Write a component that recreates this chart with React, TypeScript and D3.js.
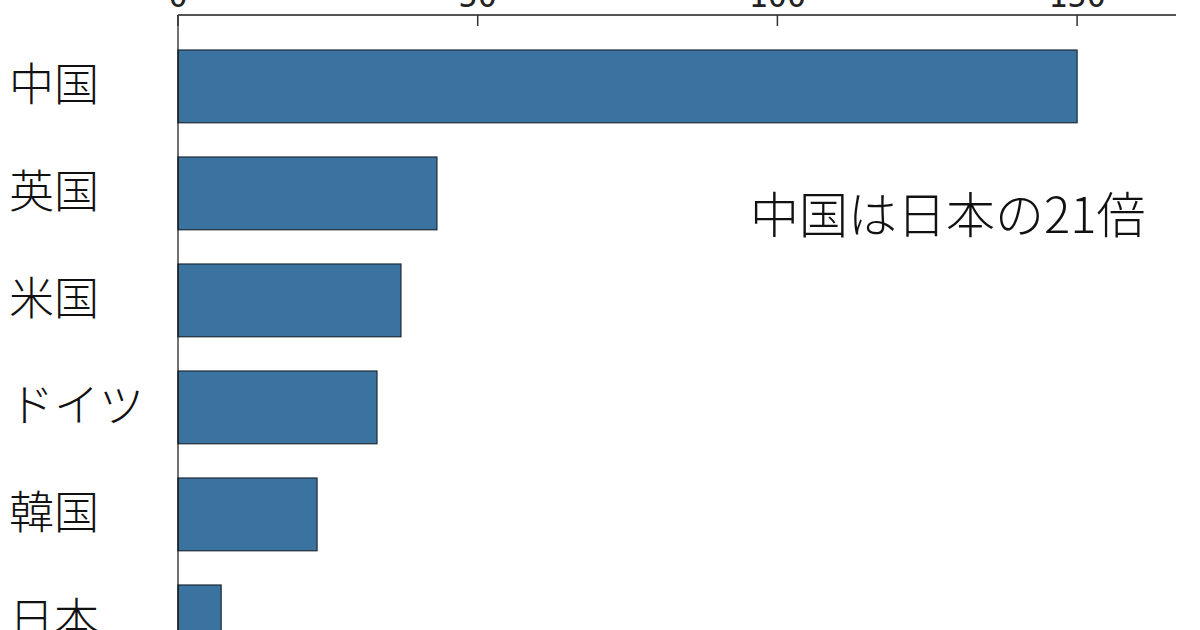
import * as d3 from 'd3'
import React from 'react'

const countries = ['中国', '英国', '米国', 'ドイツ', '韓国', '日本']
const values = [150, 43.2, 37.2, 33.2, 23.2, 7.2]
const tickValues = [0, 50, 100, 150]
const note = '中国は日本の21倍'

const width = 1200
const height = 630
const jp = '"Noto Sans CJK JP", "Noto Sans", sans-serif'

const App: React.FC = () => {
  const x = d3.scaleLinear().domain([0, 166.5]).range([178, 1176])
  const y = d3
    .scaleBand()
    .domain(countries)
    .range([32.88, 674.88])
    .paddingInner(0.32)
    .paddingOuter(0.16)

  const axisY = 15

  return (
    <svg
      width={width}
      height={height}
      style={{ position: 'fixed', top: 0, left: 0, background: '#fff' }}
    >
      {/* bars */}
      {countries.map((c, i) => (
        <rect
          key={c}
          x={x(0)}
          y={y(c)}
          width={x(values[i]) - x(0)}
          height={y.bandwidth()}
          fill='#3a72a0'
          stroke='#1e2a36'
          strokeWidth={1.2}
        />
      ))}

      {/* left axis line */}
      <line x1={x(0)} x2={x(0)} y1={axisY} y2={height} stroke='#111' strokeWidth={1.2} />

      {/* top axis */}
      <line x1={x(0)} x2={1176} y1={axisY} y2={axisY} stroke='#555' strokeWidth={2} />
      {tickValues.map((t) => (
        <g key={t} transform={`translate(${x(t)},0)`}>
          <line y1={axisY} y2={axisY + 11} stroke='#333' strokeWidth={1.5} />
          <text
            y={7}
            textAnchor='middle'
            fontFamily='"DejaVu Sans Mono", monospace'
            fontSize={32}
            fill='#222'
          >
            {t}
          </text>
        </g>
      ))}

      {/* category labels */}
      {countries.map((c) => (
        <text
          key={c}
          x={9}
          y={(y(c) || 0) + y.bandwidth() / 2 - 5}
          dominantBaseline='central'
          fontFamily={jp}
          fontWeight={300}
          fontSize={45}
          fill='#111'
        >
          {c}
        </text>
      ))}

      {/* annotation */}
      <text
        x={750}
        y={211}
        dominantBaseline='central'
        fontFamily={jp}
        fontWeight={300}
        fontSize={49}
        fill='#111'
      >
        {note}
      </text>
    </svg>
  )
}

export default App
